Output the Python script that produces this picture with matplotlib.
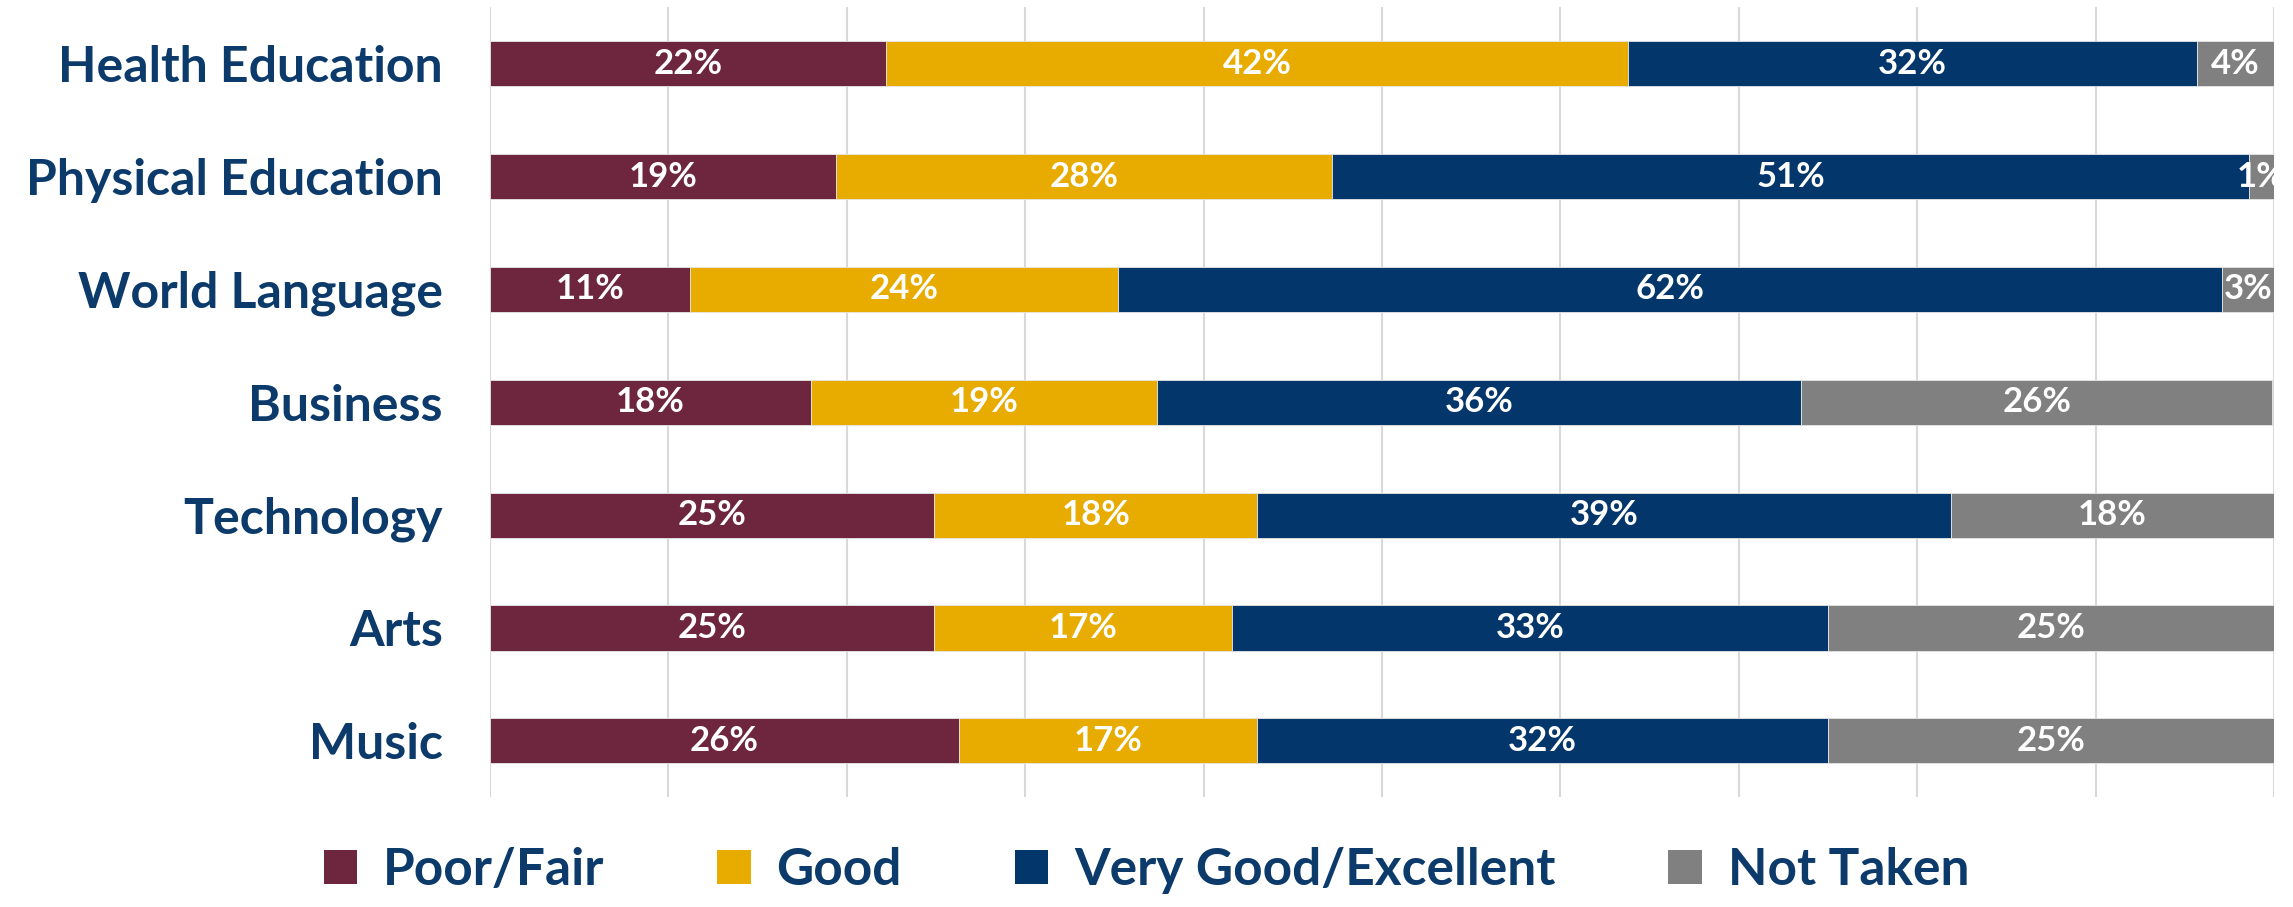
import matplotlib
matplotlib.use("Agg")
import matplotlib.pyplot as plt
import numpy as np
from matplotlib.patches import Patch

plt.rcParams["font.family"] = ["Lato", "DejaVu Sans"]
plt.rcParams["font.weight"] = "bold"

# data (percent of students)
subjects = ["Health Education", "Physical Education", "World Language",
            "Business", "Technology", "Arts", "Music"]
series = ["Poor/Fair", "Good", "Very Good/Excellent", "Not Taken"]
poor_fair = [22.2, 19.4, 11.2, 18.0, 24.9, 24.9, 26.3]
good = [41.6, 27.8, 24.0, 19.4, 18.1, 16.7, 16.7]
very_good = [31.9, 51.4, 61.9, 36.1, 38.9, 33.4, 32.0]
not_taken = [4.3, 1.4, 2.9, 26.4, 18.1, 25.0, 25.0]

colors = ["#6D263D", "#E8AB00", "#03376B", "#808080"]
text_blue = "#0B3A6B"

fig = plt.figure(figsize=(22.93, 9.07), dpi=100)
ax = fig.add_axes([0.2137, 0.121, 0.778, 0.871])

y = np.arange(len(subjects))
left = np.zeros(len(subjects))
for vals, color in zip([poor_fair, good, very_good, not_taken], colors):
    vals = np.array(vals)
    ax.barh(y, vals, left=left, height=0.4, color=color,
            edgecolor="#e6e6e6", linewidth=0.6, zorder=3)
    for yi, l, v in zip(y, left, vals):
        ax.text(l + v / 2, yi, f"{v:.0f}%", ha="center", va="center",
                color="white", fontsize=25, fontweight="bold", zorder=4)
    left += vals

ax.set_xlim(0, 100)
ax.set_ylim(6.5, -0.5)
ax.set_xticks(np.arange(0, 101, 10))
ax.set_xticklabels([])
ax.tick_params(axis="x", length=0)
ax.tick_params(axis="y", length=0, pad=34)
ax.set_yticks(y)
ax.set_yticklabels(subjects, fontsize=36, fontweight="bold", color=text_blue)
ax.grid(True, axis="x", color="#d9d9d9", linewidth=1.5, zorder=0)
for s in ax.spines.values():
    s.set_visible(False)

handles = [Patch(facecolor=c, label=s) for s, c in zip(series, colors)]
leg = fig.legend(handles=handles, loc="center", bbox_to_anchor=(0.5, 0.04),
                 ncol=4, frameon=False, fontsize=37, handlelength=0.65,
                 handleheight=0.65, handletextpad=0.5, columnspacing=2.2)
for t in leg.get_texts():
    t.set_color(text_blue)
    t.set_fontweight("bold")

fig.savefig("out.png", dpi=100)
